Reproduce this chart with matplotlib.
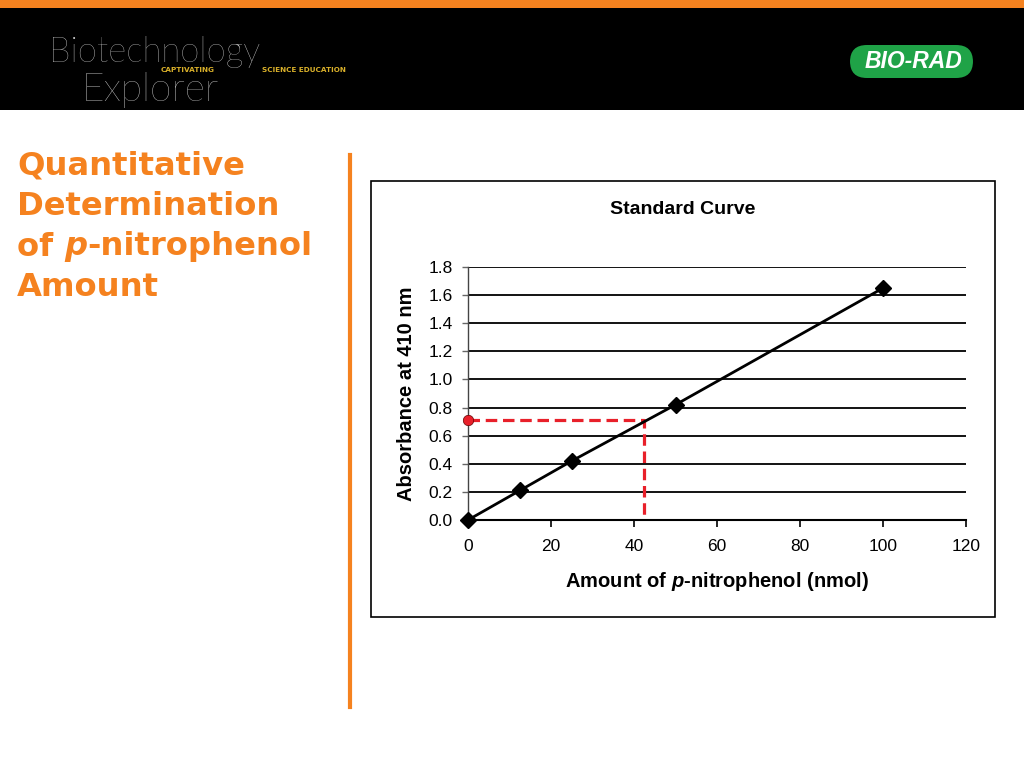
import matplotlib
matplotlib.use("Agg")
import matplotlib.pyplot as plt
from matplotlib.patches import Rectangle, FancyBboxPatch
from matplotlib.lines import Line2D

plt.rcParams['font.family'] = ['Liberation Sans', 'DejaVu Sans']
plt.rcParams['mathtext.fontset'] = 'custom'
plt.rcParams['mathtext.it'] = 'Liberation Sans:italic:bold'
plt.rcParams['mathtext.rm'] = 'Liberation Sans:bold'
plt.rcParams['mathtext.bf'] = 'Liberation Sans:bold'

# Data
amount_nmol = [0, 12.5, 25, 50, 100]
absorbance = [0.0, 0.21, 0.42, 0.82, 1.65]
unknown_abs = 0.71
unknown_amount = 42.4
x_ticks = [0, 20, 40, 60, 80, 100, 120]
y_ticks = [0.0, 0.2, 0.4, 0.6, 0.8, 1.0, 1.2, 1.4, 1.6, 1.8]

ORANGE = '#F5821F'
W, H = 1024, 768

fig = plt.figure(figsize=(W/100, H/100), dpi=100)
fig.patch.set_facecolor('white')

def fx(px):
    return px / W

def fy(py):
    return 1 - py / H

# Header
fig.patches.append(Rectangle((0, fy(110)), 1, fy(8) - fy(110), transform=fig.transFigure,
                             facecolor='black', edgecolor='none', zorder=-5))
fig.patches.append(Rectangle((0, fy(8)), 1, 1 - fy(8), transform=fig.transFigure,
                             facecolor=ORANGE, edgecolor='none', zorder=-5))
fig.text(fx(49), fy(52), 'Biotechnology', color='#d8d8d8', fontsize=25, family='Lato',
         fontweight='light', va='center', ha='left')
fig.text(fx(81), fy(90), 'Explorer', color='#d8d8d8', fontsize=28, family='Lato',
         fontweight='light', va='center', ha='left')
fig.text(fx(161), fy(70), 'CAPTIVATING', color='#D9B02A', fontsize=5.2, fontweight='bold',
         family='DejaVu Sans', va='center', ha='left')
fig.text(fx(262), fy(70), 'SCIENCE EDUCATION', color='#D9B02A', fontsize=5.2,
         fontweight='bold', family='DejaVu Sans', va='center', ha='left')
pill = FancyBboxPatch((fx(850), fy(78)), fx(123), fy(45) - fy(78),
                      boxstyle='round,pad=0,rounding_size=0.0165',
                      transform=fig.transFigure, facecolor='#1FA347', edgecolor='none',
                      mutation_aspect=W/H, zorder=-4)
fig.patches.append(pill)
fig.text(fx(913), fy(62), 'BIO-RAD', color='white', fontsize=16.5, fontweight='bold',
         style='italic', va='center', ha='center')

# Slide title (piecewise to allow italic p)
TFONT = 'DejaVu Sans'
TSIZE = 23.2
title_lines = [[('Quantitative', 'normal')], [('Determination', 'normal')],
               [('of ', 'normal'), ('p', 'italic'), ('-nitrophenol', 'normal')],
               [('Amount', 'normal')]]
fig.canvas.draw()
renderer = fig.canvas.get_renderer()
for i, pieces in enumerate(title_lines):
    xpix = 17
    for txt, sty in pieces:
        t = fig.text(fx(xpix), fy(166 + i * 40.5), txt, color=ORANGE, fontsize=TSIZE,
                     fontweight='bold', family=TFONT, style=sty, va='center', ha='left')
        bb = t.get_window_extent(renderer=renderer)
        xpix += bb.width

# Vertical orange divider
fig.add_artist(Line2D([fx(350), fx(350)], [fy(155), fy(707)], color=ORANGE, lw=3,
                      transform=fig.transFigure))

# Chart frame
fig.patches.append(Rectangle((fx(371), fy(617)), fx(624), fy(181) - fy(617),
                             transform=fig.transFigure, facecolor='white',
                             edgecolor='black', lw=1.2, zorder=-3))
fig.text(fx(683), fy(210), 'Standard Curve', fontsize=14, fontweight='bold',
         ha='center', va='center')

ax = fig.add_axes([fx(468), fy(520), fx(966) - fx(468), fy(267) - fy(520)])
ax.set_zorder(2)
ax.patch.set_alpha(0)
ax.set_xlim(0, 120)
ax.set_ylim(0, 1.8)
ax.set_xticks(x_ticks)
ax.set_yticks(y_ticks)
ax.set_yticklabels([f'{v:.1f}' for v in y_ticks])
ax.set_xticklabels([str(v) for v in x_ticks])
ax.grid(axis='y', color='black', lw=1.3)
ax.set_axisbelow(True)
for s in ['top', 'right']:
    ax.spines[s].set_visible(False)
ax.spines['left'].set_color('#444444')
ax.spines['left'].set_linewidth(1.0)
ax.spines['bottom'].set_linewidth(1.5)
ax.tick_params(axis='x', direction='out', length=5, width=1.2, labelsize=12.5, pad=9)
ax.tick_params(axis='y', direction='out', length=4, width=1.0, color='#666666',
               labelsize=12.5, pad=7)

ax.plot(amount_nmol, absorbance, color='black', lw=2, marker='D', markersize=8.5,
        clip_on=False, zorder=5)
ax.plot([0, unknown_amount, unknown_amount], [unknown_abs, unknown_abs, 0],
        color='#E8202A', lw=2.3, ls=(0, (3.6, 1.8)), zorder=4, clip_on=False)
ax.plot([0], [unknown_abs], marker='o', markersize=7.5, color='#E8202A',
        markeredgecolor='#600', markeredgewidth=0.5, clip_on=False, zorder=6)

ax.set_xlabel('Amount of $\\it{p}$-nitrophenol (nmol)', fontsize=14.5, fontweight='bold',
              labelpad=11)
ax.set_ylabel('Absorbance at 410 nm', fontsize=14.5, fontweight='bold', labelpad=9)

fig.savefig('out.png', dpi=100)
